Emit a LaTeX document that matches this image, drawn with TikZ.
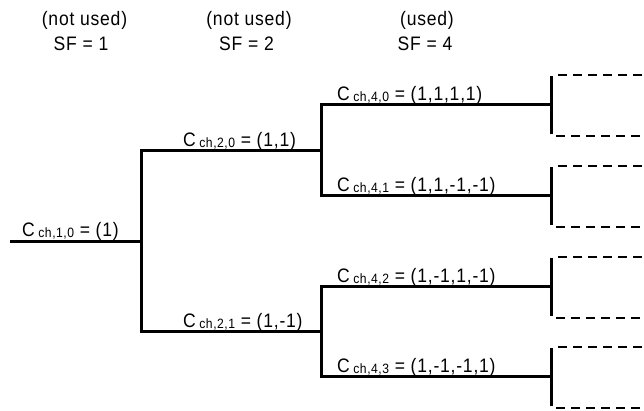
\documentclass[tikz,border=0pt]{standalone}
\usepackage{fontspec}
\setmainfont[FakeStretch=0.9,LetterSpace=4]{Liberation Sans}
\newcommand{\chsub}[1]{C\hspace{3.5pt}\raisebox{-1.8pt}{\fontsize{13.5}{13.5}\selectfont ch,#1}}
\begin{document}
\begin{tikzpicture}[x=1pt,y=-1pt,
  branch/.style={line width=3pt, line join=miter},
  boxedge/.style={line width=2.8pt, dash pattern=on 9pt off 6pt},
  lbl/.style={anchor=base west, inner sep=0pt, font=\fontsize{19.5}{22}\selectfont},
  hdr/.style={anchor=base, inner sep=0pt, font=\fontsize{19.5}{22}\selectfont}]
\useasboundingbox (0,0) rectangle (644,410);
% headers
\node[hdr] (h1a) at (84.5,25) {(not used)};
\node[hdr] (h1b) at (81,50) {SF = 1};
\node[hdr] (h2a) at (249,25) {(not used)};
\node[hdr] (h2b) at (246.5,50) {SF = 2};
\node[hdr] (h3a) at (427,25) {(used)};
\node[hdr] (h3b) at (425,50) {SF = 4};
% tree coordinates
\coordinate (r) at (10,241);
\coordinate (a) at (141,241);
\coordinate (a0) at (141,150);
\coordinate (a1) at (141,331);
\coordinate (b0) at (321,150);
\coordinate (b1) at (321,331);
\coordinate (b00) at (321,104);
\coordinate (b01) at (321,195);
\coordinate (b10) at (321,286);
\coordinate (b11) at (321,376);
\coordinate (e00) at (551,104);
\coordinate (e01) at (551,195);
\coordinate (e10) at (551,286);
\coordinate (e11) at (551,376);
% branches
\draw[branch] (r) -- (a);
\draw[branch] (b0) -- (a0) -- (a1) -- (b1);
\draw[branch] (e00) -- (b00) -- (b01) -- (e01);
\draw[branch] (e10) -- (b10) -- (b11) -- (e11);
% end bars and dashed boxes
\foreach \e in {e00,e01,e10,e11}{
  \draw[branch] ([yshift=28pt]\e) -- ([yshift=-30pt]\e);
  \draw[boxedge] ([xshift=7pt,yshift=29pt]\e) -- ([xshift=95pt,yshift=29pt]\e);
  \draw[boxedge] ([xshift=5pt,yshift=-32pt]\e) -- ([xshift=95pt,yshift=-32pt]\e);
}
% labels
\node[lbl] (l10) at (22,236) {\chsub{1,0} = (1)};
\node[lbl] (l20) at (183,146) {\chsub{2,0} = (1,1)};
\node[lbl] (l21) at (183,327) {\chsub{2,1} = (1,-1)};
\node[lbl] (l40) at (337,100) {\chsub{4,0} = (1,1,1,1)};
\node[lbl] (l41) at (337,191) {\chsub{4,1} = (1,1,-1,-1)};
\node[lbl] (l42) at (337,282) {\chsub{4,2} = (1,-1,1,-1)};
\node[lbl] (l43) at (337,372) {\chsub{4,3} = (1,-1,-1,1)};
\end{tikzpicture}
\end{document}
